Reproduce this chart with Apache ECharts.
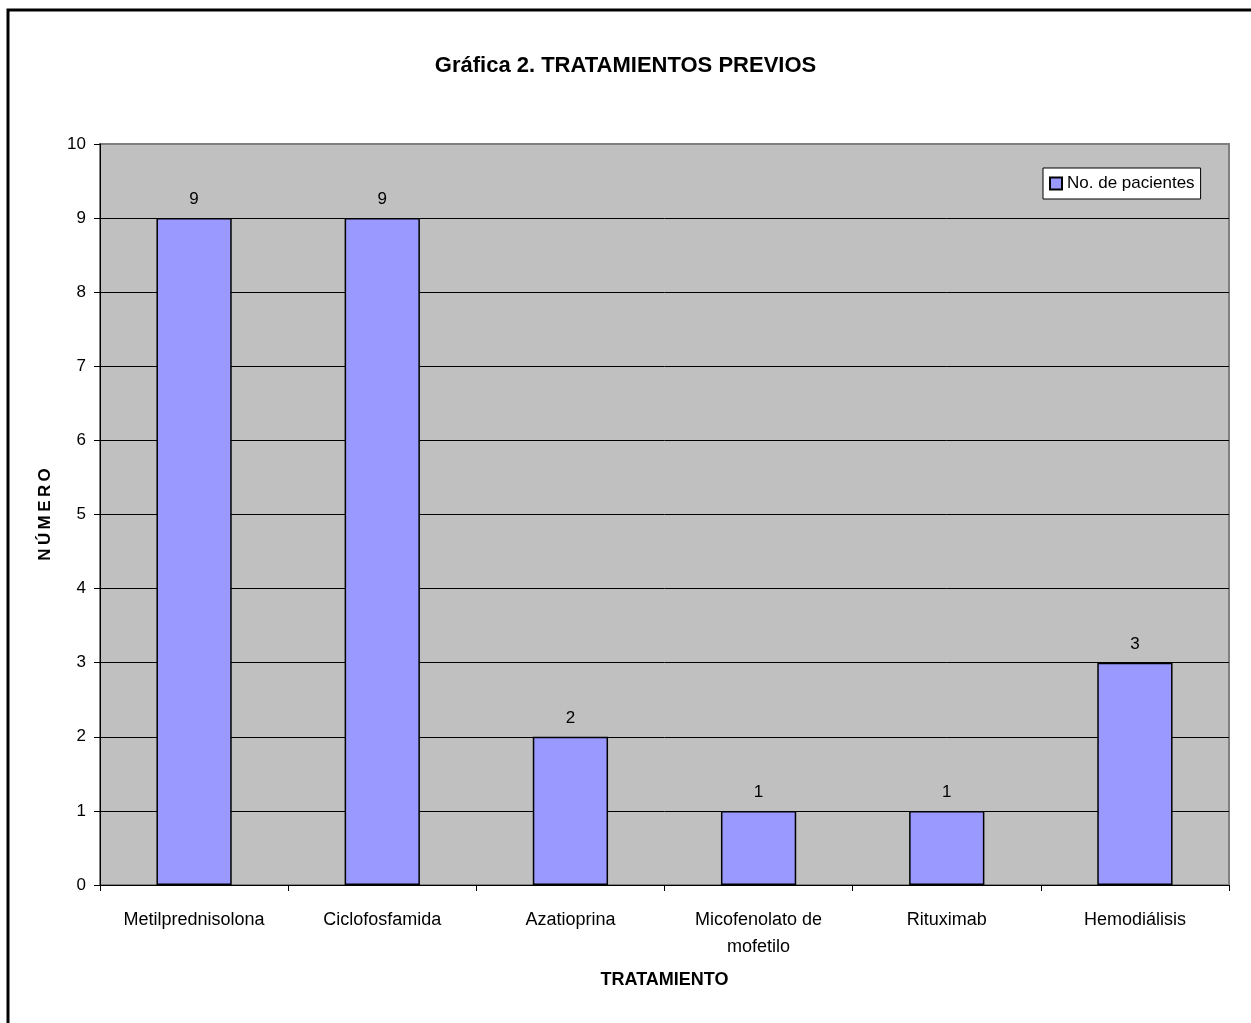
<!DOCTYPE html>
<html>
<head>
<meta charset="utf-8">
<script src="https://cdn.jsdelivr.net/npm/echarts@6/dist/echarts.min.js"></script>
<style>
  html, body { margin: 0; padding: 0; background: #fff; }
  #chart { width: 1251px; height: 1023px; }
</style>
</head>
<body>
<div id="chart"></div>
<script>
// Treatments and number of patients for each
const categories = ['Metilprednisolona', 'Ciclofosfamida', 'Azatioprina', 'Micofenolato de\nmofetilo', 'Rituximab', 'Hemodiálisis'];
const patients = [9, 9, 2, 1, 1, 3];
const seriesName = 'No. de pacientes';
const titleText = 'Gráfica 2. TRATAMIENTOS PREVIOS';
const xAxisTitle = 'TRATAMIENTO';
const yAxisTitle = 'N\u2009Ú\u2009M\u2009E\u2009R\u2009O';

const FONT = '"Liberation Sans", Arial, sans-serif';

const chart = echarts.init(document.getElementById('chart'), null, { renderer: 'canvas' });

chart.setOption({
  backgroundColor: '#ffffff',
  animation: false,
  textStyle: { fontFamily: FONT, color: '#000' },
  title: {
    text: titleText,
    left: 'center',
    top: 50,
    textStyle: { fontFamily: FONT, fontSize: 22, fontWeight: 'bold', color: '#000' }
  },
  legend: {
    data: [seriesName],
    left: 1043,
    top: 168,
    orient: 'vertical',
    padding: [5, 6],
    itemWidth: 12,
    itemHeight: 12,
    backgroundColor: '#ffffff',
    borderColor: '#000000',
    borderWidth: 1,
    borderRadius: 0,
    icon: 'rect',
    textStyle: { fontFamily: FONT, fontSize: 17, color: '#000', lineHeight: 21 }
  },
  grid: {
    left: 100,
    top: 144,
    right: 22,
    bottom: 138,
    show: true,
    backgroundColor: '#c0c0c0',
    borderColor: '#808080',
    borderWidth: 2
  },
  xAxis: {
    type: 'category',
    data: categories,
    boundaryGap: true,
    name: xAxisTitle,
    nameLocation: 'middle',
    nameGap: 86,
    nameTextStyle: { fontFamily: FONT, fontSize: 18, fontWeight: 'bold', color: '#000' },
    axisLine: { show: true, lineStyle: { color: '#000', width: 1 } },
    axisTick: { show: true, length: 6, lineStyle: { color: '#000' } },
    axisLabel: {
      interval: 0,
      margin: 22,
      fontFamily: FONT,
      fontSize: 18,
      lineHeight: 27,
      color: '#000'
    }
  },
  yAxis: {
    type: 'value',
    min: 0,
    max: 10,
    interval: 1,
    name: yAxisTitle,
    nameLocation: 'middle',
    nameGap: 46,
    nameRotate: 90,
    nameTextStyle: { fontFamily: FONT, fontSize: 17, fontWeight: 'bold', color: '#000' },
    axisLine: { show: true, lineStyle: { color: '#000', width: 1 } },
    axisTick: { show: true, inside: false, length: 6, lineStyle: { color: '#000' } },
    axisLabel: { margin: 14, fontFamily: FONT, fontSize: 17, color: '#000' },
    splitLine: {
      show: true,
      showMinLine: false,
      showMaxLine: false,
      lineStyle: { color: '#000', width: 1 }
    }
  },
  series: [{
    name: seriesName,
    type: 'bar',
    data: patients,
    barWidth: '40%',
    itemStyle: { color: '#9999ff', borderColor: '#000', borderWidth: 1.5 },
    label: {
      show: true,
      position: 'top',
      distance: 10,
      fontFamily: FONT,
      fontSize: 17,
      color: '#000'
    }
  }],
  graphic: [{
    type: 'rect',
    silent: true,
    shape: { x: 8, y: 10, width: 1400, height: 1200 },
    style: { fill: null, stroke: '#000', lineWidth: 3 }
  }]
});
</script>
</body>
</html>
